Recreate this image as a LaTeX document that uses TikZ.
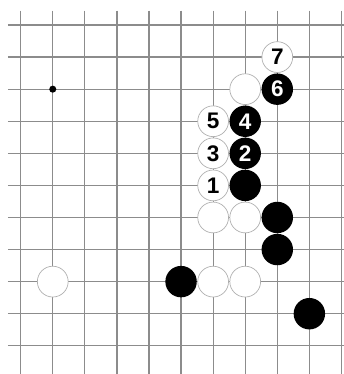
\documentclass[tikz,border=0pt]{standalone}
\usepackage{fontspec}
\setsansfont{Liberation Sans}
\usetikzlibrary{positioning}
\definecolor{GridColor}{RGB}{140,140,140}
\definecolor{RimColor} {RGB}{175,175,175}
\tikzset{
  wstone/.style={circle,draw=RimColor,line width=0.6pt,fill=white,minimum size=0.96cm,inner sep=0pt},
  bstone/.style={circle,fill=black,text=white,minimum size=0.98cm,inner sep=0pt},
  hoshi/.style={circle,fill=black,minimum size=0.22cm,inner sep=0pt}
}
\begin{document}
\begin{tikzpicture}[x=1cm,y=-1cm,every node/.style={font=\sffamily\bfseries\fontsize{20}{20}\selectfont}]
\useasboundingbox[fill=white] (-0.645,-0.78) rectangle (10.05,10.88);
% board lines
\foreach \k in {0,...,10} {
  \draw[GridColor,line width=1.1pt] (-0.40,\k) -- (10.1,\k);
  \draw[GridColor,line width=1.1pt] (\k,-0.45) -- (\k,10.9);
}
\node[hoshi] (star) at (1,2) {};
% numbered moves
\node[wstone] (w1) at (6,5) {1};
\node[bstone] (b2) at (7,4) {2};
\node[wstone] (w3) at (6,4) {3};
\node[bstone] (b4) at (7,3) {4};
\node[wstone] (w5) at (6,3) {5};
\node[bstone] (b6) at (8,2) {6};
\node[wstone] (w7) at (8,1) {7};
% stones already on the board
\foreach \n/\p in {wa/{(7,2)},wb/{(6,6)},wc/{(7,6)},wd/{(1,8)},we/{(6,8)},wf/{(7,8)}}
  \node[wstone] (\n) at \p {};
\foreach \n/\p in {ba/{(7,5)},bb/{(8,6)},bc/{(8,7)},bd/{(5,8)},be/{(9,9)}}
  \node[bstone] (\n) at \p {};
\end{tikzpicture}
\end{document}
